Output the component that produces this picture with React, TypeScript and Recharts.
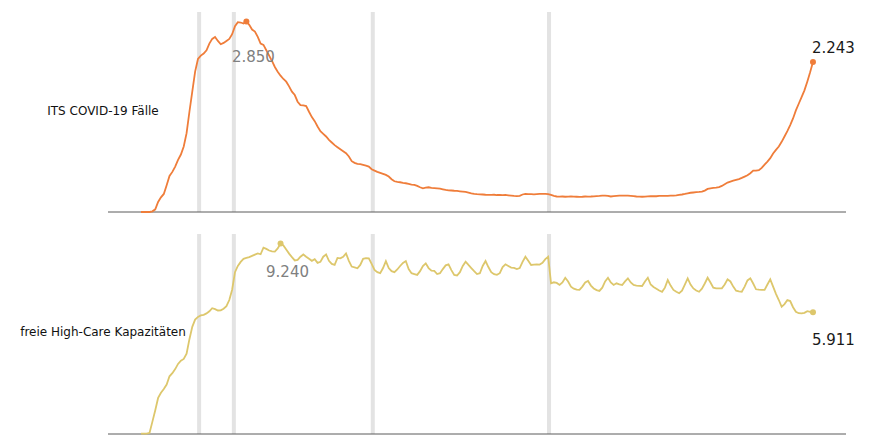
import { LineChart, Line, XAxis, YAxis, ReferenceLine } from 'recharts';

// daily values
const icuCases = [
  0, 0, 0, 0, 10, 40, 150, 220, 270, 400,
  540, 600, 680, 780, 860, 980, 1180, 1500, 1800, 2100,
  2290, 2340, 2370, 2420, 2520, 2590, 2620, 2560, 2510, 2530,
  2560, 2590, 2660, 2780, 2840, 2835, 2820, 2850, 2800, 2730,
  2700, 2620, 2520, 2500, 2420, 2340, 2260, 2170, 2100, 2040,
  1990, 1950, 1880, 1800, 1750, 1650, 1600, 1595, 1585, 1500,
  1420, 1360, 1280, 1210, 1170, 1130, 1080, 1040, 1000, 970,
  940, 910, 880, 830, 760, 735, 720, 715, 705, 695,
  680, 640, 620, 600, 585, 570, 555, 530, 490, 460,
  450, 445, 435, 430, 420, 410, 405, 390, 370, 355,
  365, 370, 360, 358, 355, 350, 340, 330, 325, 322,
  318, 315, 310, 305, 300, 290, 280, 272, 268, 265,
  262, 258, 256, 255, 258, 254, 255, 252, 255, 250,
  245, 240, 238, 242, 262, 270, 266, 268, 265, 268,
  270, 272, 270, 268, 255, 240, 232, 230, 232, 228,
  230, 232, 230, 228, 226, 228, 232, 230, 232, 235,
  238, 240, 244, 246, 240, 232, 236, 240, 244, 246,
  245, 244, 240, 236, 232, 230, 228, 230, 234, 236,
  238, 236, 240, 242, 240, 242, 244, 246, 248, 255,
  262, 270, 280, 288, 292, 296, 300, 305, 320, 345,
  355, 360, 365, 372, 390, 415, 440, 455, 468, 480,
  492, 510, 530, 550, 580, 620, 618, 625, 660, 710,
  755, 805, 875, 930, 980, 1050, 1130, 1210, 1300, 1400,
  1520, 1620, 1720, 1820, 1950, 2090, 2243,
];

const freeHighCare = [
  20, 20, 20, 60, 600, 1150, 1750, 2000, 2180, 2400,
  2800, 2950, 3150, 3400, 3560, 3640, 3900, 4600, 5200, 5550,
  5680, 5750, 5780, 5850, 5950, 6100, 6060, 5990, 6000, 6080,
  6200, 6500, 7000, 7850, 8150, 8350, 8500, 8540, 8580, 8640,
  8700, 8760, 8720, 9040, 8980, 8900, 8860, 8850, 9000, 9240,
  9150, 8950, 8750, 8580, 8420, 8450, 8600, 8710, 8600, 8500,
  8400, 8480, 8300, 8350, 8600, 8710, 8400, 8250, 8200, 8540,
  8520, 8600, 8760, 8400, 8120, 8080, 8040, 8200, 8500, 8530,
  8520, 8250, 7960, 7850, 7800, 8050, 8390, 8050, 7900, 7850,
  7980, 8150, 8300, 8390, 8000, 7800, 7760, 7720, 7900, 8150,
  8280, 8050, 7920, 7910, 7760, 7800, 8000, 8180, 8230, 7950,
  7720, 7690, 7850, 8150, 8360, 8200, 8050, 7900, 7760, 7800,
  8150, 8390, 8100, 7850, 7750, 7720, 7800, 8100, 8230, 8150,
  8070, 8060, 8000, 8050, 8350, 8600, 8400, 8200, 8220, 8230,
  8220, 8300, 8480, 8600, 7310, 7360, 7330, 7230, 7350, 7580,
  7400, 7150, 7050, 7000, 6990, 7150, 7350, 7420, 7200, 7060,
  6980, 6940, 7100, 7400, 7580, 7350, 7230, 7310, 7260, 7230,
  7400, 7550, 7350, 7230, 7200, 7190, 7180, 7400, 7580, 7250,
  7130, 7050, 6960, 6900, 7100, 7470, 7200, 6990, 6900, 6830,
  6950, 7250, 7550, 7250, 7060, 6960, 6900, 7050, 7300, 7580,
  7350, 7100, 7060, 7060, 7070, 7250, 7500, 7400, 7150, 6950,
  6920, 6900, 7150, 7450, 7550, 7300, 7020, 7000, 6990, 6990,
  7250, 7500, 7150, 6800, 6500, 6170, 6300, 6500, 6450, 6150,
  5930, 5860, 5850, 5880, 5960, 5930, 5911,
];

// day positions of the grey event markers
const eventDays = [20.4, 32.6, 81.4, 143.3];

const seriesNames = ['ITS COVID-19 Fälle', 'freie High-Care Kapazitäten'];

const FONT = '"DejaVu Sans", Verdana, sans-serif';
const X_PAD = 11.6;

const fmt = (v: number) =>
  Math.round(v).toString().replace(/\B(?=(\d{3})+(?!\d))/g, '.');

interface PanelProps {
  values: number[];
  name: string;
  color: string;
  height: number;
  margin: { top: number; right: number; bottom: number; left: number };
  peakDy: number;
  endDy: number;
  labelTop: number;
}

function Panel({ values, name, color, height, margin, peakDy, endDy, labelTop }: PanelProps) {
  const data = values.map((value, day) => ({ day, value }));
  const max = Math.max(...values);
  const peakIdx = values.indexOf(max);
  const lastIdx = values.length - 1;

  const renderDot = (props: any) => {
    const { cx, cy, index } = props;
    if (index === peakIdx) {
      return (
        <g key={`d${index}`}>
          <circle cx={cx} cy={cy} r={3} fill={color} />
          <text x={cx + 7} y={cy + peakDy} textAnchor="middle" fill="#808080" fontSize={15} fontFamily={FONT}>
            {fmt(values[index])}
          </text>
        </g>
      );
    }
    if (index === lastIdx) {
      return (
        <g key={`d${index}`}>
          <circle cx={cx} cy={cy} r={3} fill={color} />
          <text x={cx - 1} y={cy + endDy} textAnchor="start" fill="#1a1a1a" fontSize={15} fontFamily={FONT}>
            {fmt(values[index])}
          </text>
        </g>
      );
    }
    return <g key={`d${index}`} />;
  };

  return (
    <div style={{ position: 'relative', width: 864, height }}>
      <LineChart width={864} height={height} data={data} margin={margin}>
        <XAxis type="number" dataKey="day" hide domain={[-X_PAD, lastIdx + X_PAD]} />
        <YAxis hide domain={[0, max * 1.05]} />
        {eventDays.map((d) => (
          <ReferenceLine key={d} x={d} stroke="#e3e3e3" strokeWidth={4} />
        ))}
        <ReferenceLine y={0} stroke="#5a5a5a" strokeWidth={1} />
        <Line
          type="linear"
          dataKey="value"
          stroke={color}
          strokeWidth={1.8}
          dot={renderDot}
          activeDot={false}
          isAnimationActive={false}
        />
      </LineChart>
      <div
        style={{
          position: 'absolute',
          left: 0,
          top: labelTop,
          width: 190,
          textAlign: 'center',
          fontFamily: FONT,
          fontSize: 12,
          lineHeight: '14px',
          color: '#111',
          pointerEvents: 'none',
        }}
      >
        {name}
      </div>
    </div>
  );
}

export default function App() {
  return (
    <div style={{ width: 864 }}>
      <Panel
        values={icuCases}
        name={seriesNames[0]}
        color="#ef7d3a"
        height={222}
        margin={{ top: 4, right: 26, bottom: 18, left: 100 }}
        peakDy={40}
        endDy={-9}
        labelTop={96}
      />
      <Panel
        values={freeHighCare}
        name={seriesNames[1]}
        color="#ddc76c"
        height={213}
        margin={{ top: 4, right: 26, bottom: 9, left: 100 }}
        peakDy={33}
        endDy={33}
        labelTop={95}
      />
    </div>
  );
}
